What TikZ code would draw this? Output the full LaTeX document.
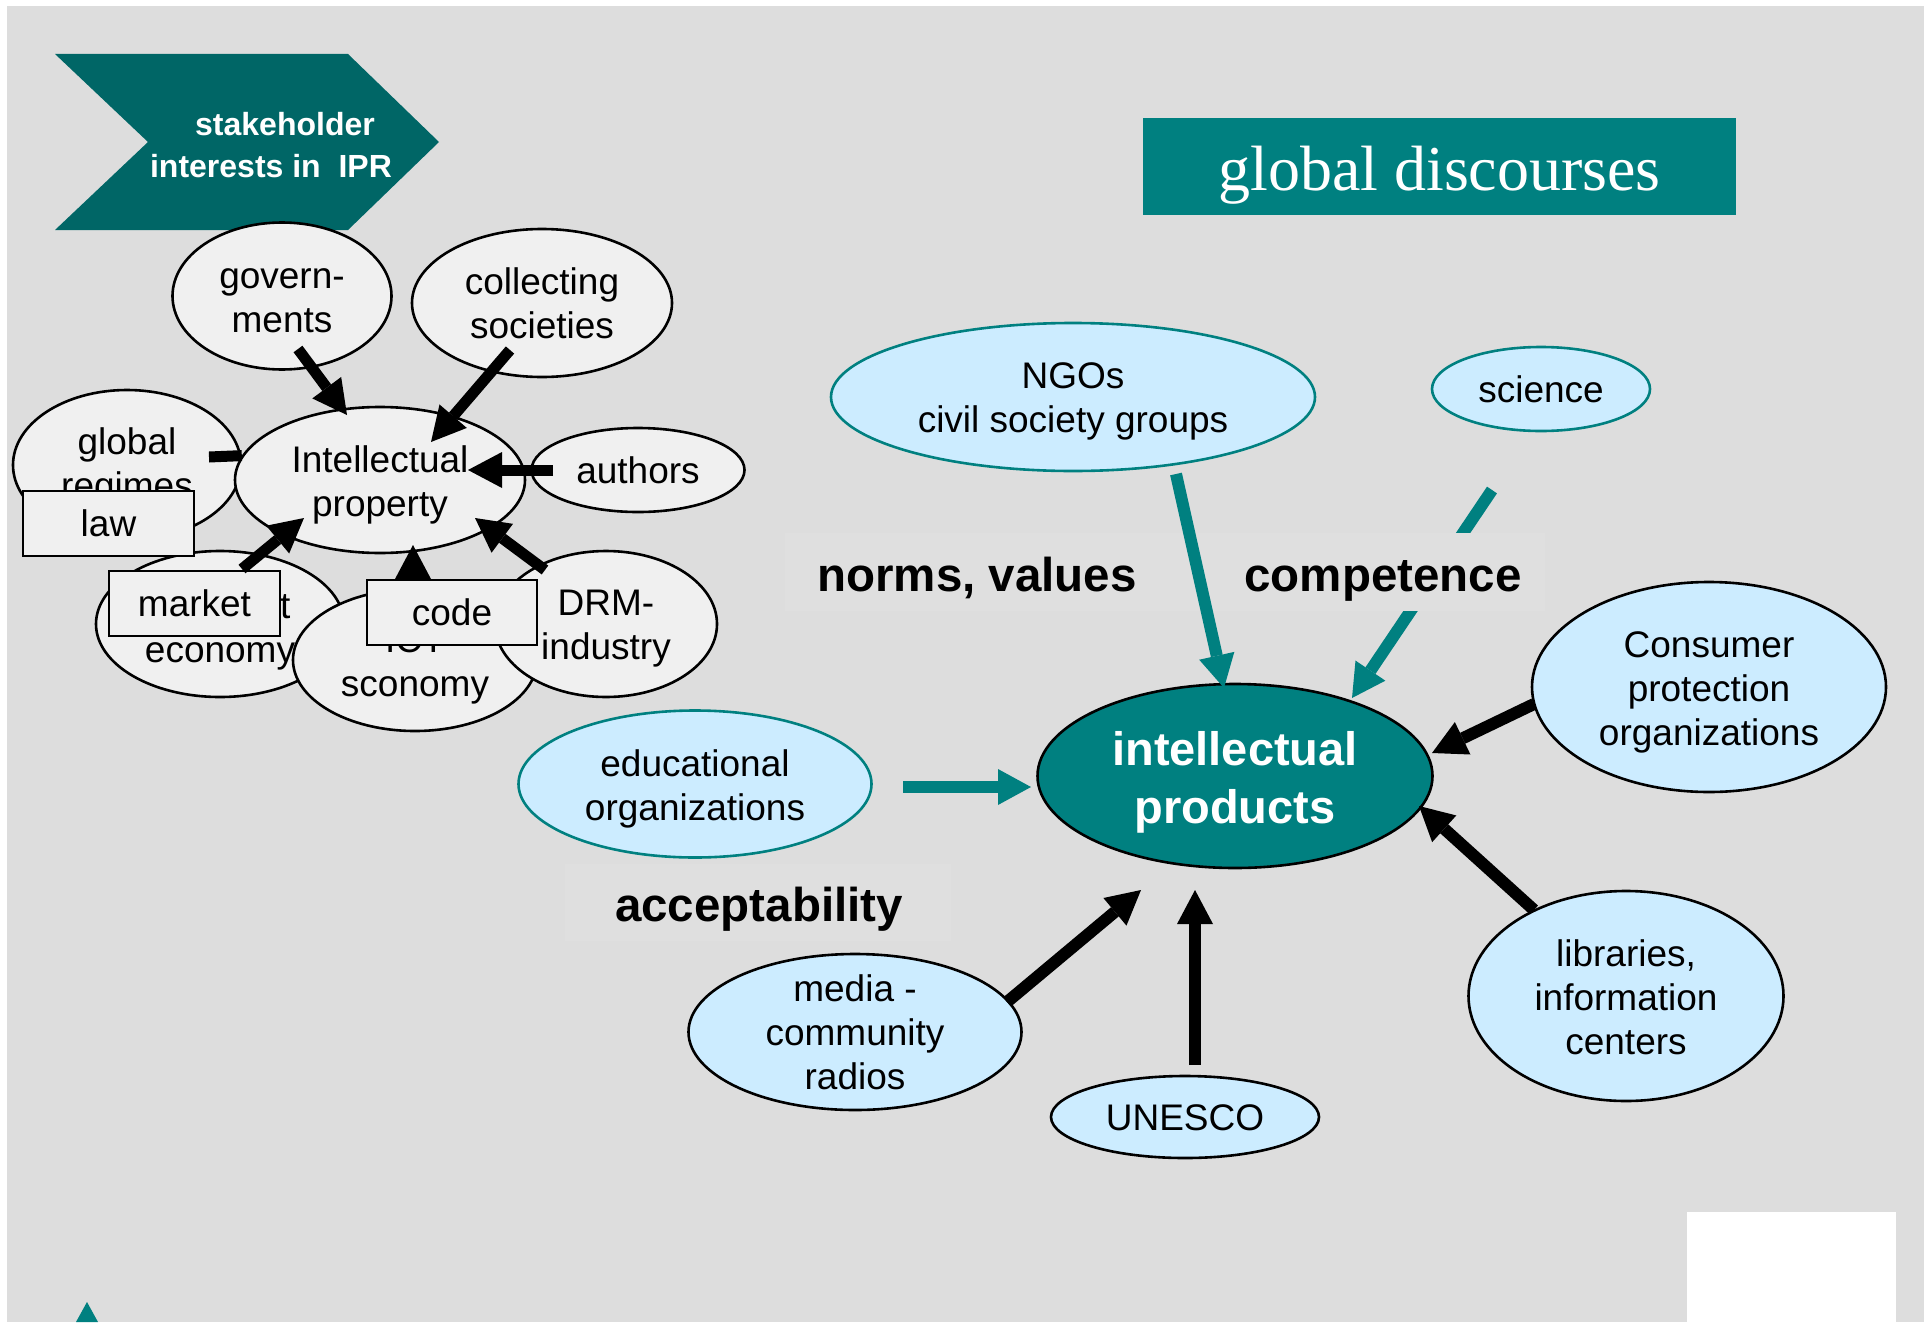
\documentclass[tikz,border=0pt]{standalone}
\usepackage{fontspec}
\setmainfont{Liberation Sans}
\newfontfamily\titleserif{Liberation Serif}
\usetikzlibrary{arrows.meta,shapes.geometric}

\definecolor{pagegrey}{HTML}{DDDDDD}
\definecolor{tagfill}{HTML}{DFDFDF}
\definecolor{greyfill}{HTML}{F0F0F0}
\definecolor{lblue}{HTML}{CCECFF}
\definecolor{tealc}{HTML}{008080}
\definecolor{darkteal}{HTML}{006666}

\tikzset{
  txt/.style={align=center, font=\fontsize{37}{44}\selectfont},
  lab/.style={txt, inner sep=0pt, yshift=-5pt},
  labflat/.style={txt, inner sep=0pt},
  gel/.style={ellipse, draw=black, line width=2.6pt, fill=greyfill, inner sep=0pt},
  bel/.style={ellipse, draw=black, line width=2.6pt, fill=lblue, inner sep=0pt},
  tel/.style={bel, draw=tealc},
  gbox/.style={rectangle, draw=black, line width=2.2pt, fill=greyfill, inner sep=0pt, txt},
  blkbar/.style={line width=11pt, draw=black},
  blkarrow/.style={line width=11pt, draw=black, -{Triangle[length=34pt,width=36pt,line width=0pt]}},
  rblkarrow/.style={line width=12pt, draw=black, -{Triangle[length=34pt,width=36pt,line width=0pt]}},
  tealarrow/.style={line width=12pt, draw=tealc, -{Triangle[length=33pt,width=36pt,line width=0pt]}},
  tag/.style={anchor=base, inner sep=0pt, font=\bfseries\fontsize{47.5}{57}\selectfont},
  hdr/.style={anchor=base, inner sep=0pt, text=white, font=\bfseries\fontsize{32}{43}\selectfont}
}

\begin{document}
\begin{tikzpicture}[x=1pt,y=-1pt]
\useasboundingbox (0,0) rectangle (1924,1322);
\fill[white] (0,0) rectangle (1924,1322);
\fill[pagegrey] (7,6) rectangle (1924,1322);
\fill[white] (1687,1212) rectangle (1896,1322);
\fill[tealc] (87,1302) -- (76,1322) -- (98,1322) -- cycle;

% chevron heading
\fill[darkteal] (55,54) -- (348,54) -- (439,142) -- (348,230) -- (55,230) -- (148,142) -- cycle;
\node[hdr] (hdrA) at (285,135) {stakeholder};
\node[hdr] (hdrB) at (271,177) {interests in~ IPR};

% title box
\node[fill=tealc, minimum width=593pt, minimum height=97pt, inner sep=0pt] (gdbox) at (1439.5,166.5) {};
\node[anchor=base, inner sep=0pt, text=white, font=\titleserif\fontsize{64}{70}\selectfont] (gdtext) at (1439.5,190) {global discourses};

% stakeholder cluster
\node[gel, minimum width=228pt, minimum height=150pt, label={[lab, yshift=3pt]center:{global\\regimes}}] (glob) at (127,465) {};
\node[gel, minimum width=219pt, minimum height=147pt, label={[lab]center:{govern-\\ments}}] (gov) at (282,296) {};
\node[gel, minimum width=260pt, minimum height=148pt, label={[labflat]center:{collecting\\societies}}] (coll) at (542,303) {};
\node[gel, minimum width=213pt, minimum height=84pt, label={[labflat]center:{authors}}] (auth) at (638,470) {};
\node[gel, minimum width=248pt, minimum height=146pt, label={[lab, yshift=-2pt]center:{\hspace*{28pt}market\\economy}}] (mkt) at (220,624) {};
\node[gel, minimum width=244pt, minimum height=142pt, label={[lab]center:{ICT\\sconomy}}] (ict) at (415,660) {};
\node[gel, minimum width=222pt, minimum height=146pt, label={[lab]center:{DRM-\\industry}}] (drm) at (606,624) {};
\node[gel, minimum width=290pt, minimum height=146pt, label={[lab]center:{Intellectual\\property}}] (ip) at (380,480) {};

\node[gbox, minimum width=171pt, minimum height=65pt] (law) at (108.5,523.5) {law};
\node[gbox, minimum width=171pt, minimum height=65pt] (mbox) at (194.5,603.5) {market};
\node[gbox, minimum width=170pt, minimum height=65pt] (code) at (452,612.5) {code};

% arrow ends in the cluster
\coordinate (govS) at (298,349);  \coordinate (govT) at (347,415);
\coordinate (colS) at (510,350);  \coordinate (colT) at (431,442);
\coordinate (autS) at (553,470);  \coordinate (autT) at (468,470);
\coordinate (regS) at (209,457);
\coordinate (mktS) at (242,569);  \coordinate (mktT) at (304,518);
\coordinate (codS) at (413,579);  \coordinate (codT) at (413,545);
\coordinate (drmS) at (545,570);  \coordinate (drmT) at (475,518);

\draw[blkarrow] (govS) -- (govT);
\draw[blkarrow] (colS) -- (colT);
\draw[blkarrow] (autS) -- (autT);
\draw[blkbar] (regS) -- (ip.170.6);
\draw[blkarrow] (mktS) -- (mktT);
\draw[blkarrow] (codS) -- (codT);
\draw[blkarrow] (drmS) -- (drmT);

% discourse actors
\node[tel, minimum width=484pt, minimum height=148pt, label={[lab, yshift=1pt]center:{NGOs\\civil society groups}}] (ngo) at (1073,397) {};
\node[tel, minimum width=218pt, minimum height=84pt, label={[labflat]center:{science}}] (sci) at (1541,389) {};
\node[tel, minimum width=353pt, minimum height=147pt, label={[lab]center:{educational\\organizations}}] (edu) at (695,784) {};
\node[bel, minimum width=354pt, minimum height=210pt, label={[lab]center:{Consumer\\protection\\organizations}}] (cons) at (1709,687) {};
\node[bel, minimum width=315pt, minimum height=210pt, label={[labflat, yshift=-1pt]center:{libraries,\\information\\centers}}] (lib) at (1626,996) {};
\node[bel, minimum width=333pt, minimum height=156pt, label={[labflat]center:{media -\\community\\radios}}] (media) at (855,1032) {};
\node[bel, minimum width=268pt, minimum height=82pt, label={[labflat, yshift=-1pt]center:{UNESCO}}] (unesco) at (1185,1117) {};
\node[ellipse, draw=black, line width=2.6pt, fill=tealc, inner sep=0pt, minimum width=395pt, minimum height=184pt,
      label={[inner sep=0pt, yshift=-6pt, align=center, text=white, font=\bfseries\fontsize{47}{58}\selectfont]center:{intellectual\\products}}] (prod) at (1235,776) {};

% label backdrops and labels
\fill[tagfill] (785,533) rectangle (1222,611);
\fill[tagfill] (565,864) rectangle (951,941);

\coordinate (ngoS) at (1176,474);  \coordinate (ngoT) at (1224,688);
\coordinate (sciS) at (1492,490);  \coordinate (sciT) at (1352,698);
\coordinate (eduS) at (903,787);   \coordinate (eduT) at (1031,787);
\coordinate (conS) at (1534,704);  \coordinate (conT) at (1432,753);
\coordinate (libS) at (1534,910);  \coordinate (libT) at (1419,806);
\coordinate (medS) at (1007,1002); \coordinate (medT) at (1141,890);
\coordinate (uneS) at (1195,1065); \coordinate (uneT) at (1195,890);

\draw[tealarrow] (ngoS) -- (ngoT);
\draw[tealarrow] (sciS) -- (sciT);
\fill[tagfill] (1222,533) rectangle (1545,611);
\draw[tealarrow] (eduS) -- (eduT);
\draw[rblkarrow] (conS) -- (conT);
\draw[rblkarrow] (libS) -- (libT);
\draw[rblkarrow] (medS) -- (medT);
\draw[rblkarrow] (uneS) -- (uneT);

\node[tag] (norms) at (977,591) {norms, values};
\node[tag] (comp) at (1383,591) {competence};
\node[tag] (accept) at (759,921) {acceptability};
\end{tikzpicture}
\end{document}
